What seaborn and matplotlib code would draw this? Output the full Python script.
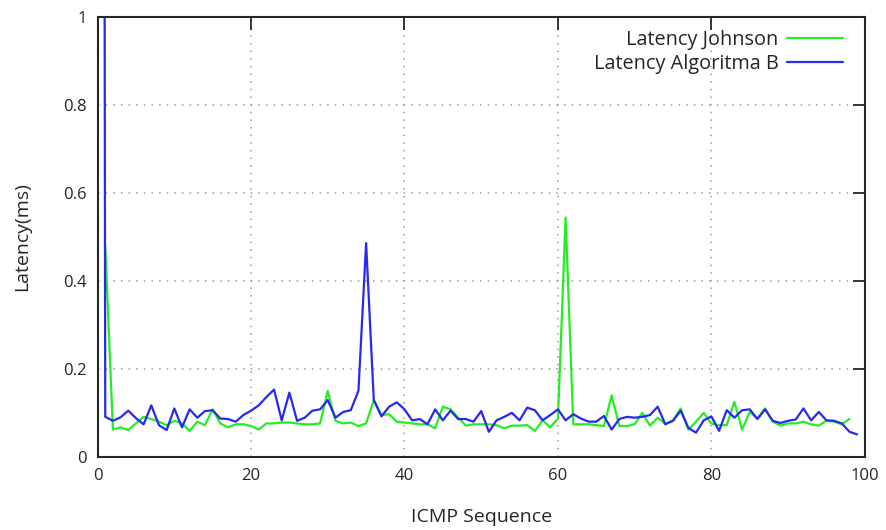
import matplotlib
matplotlib.use("Agg")
import matplotlib.pyplot as plt
import pandas as pd
import seaborn as sns

# ICMP sequence numbers and latencies (ms)
johnson_seq = list(range(1, 99))
johnson_ms = [
    0.48, 0.062, 0.067, 0.061, 0.076, 0.091, 0.086, 0.080, 0.072, 0.082,
    0.076, 0.059, 0.080, 0.072, 0.108, 0.076, 0.067, 0.074, 0.074, 0.070,
    0.062, 0.076, 0.076, 0.078, 0.078, 0.076, 0.074, 0.074, 0.076, 0.150,
    0.082, 0.076, 0.078, 0.070, 0.076, 0.129, 0.095, 0.097, 0.080, 0.078,
    0.076, 0.074, 0.074, 0.065, 0.114, 0.108, 0.089, 0.071, 0.074, 0.074,
    0.074, 0.072, 0.065, 0.071, 0.071, 0.072, 0.059, 0.083, 0.067, 0.087,
    0.544, 0.074, 0.074, 0.074, 0.072, 0.070, 0.140, 0.070, 0.070, 0.074,
    0.100, 0.071, 0.089, 0.075, 0.083, 0.110, 0.062, 0.080, 0.100, 0.076,
    0.072, 0.072, 0.125, 0.062, 0.102, 0.087, 0.110, 0.080, 0.071, 0.076,
    0.076, 0.080, 0.074, 0.071, 0.082, 0.080, 0.074, 0.086,
]

algb_seq = list(range(0, 100))
algb_ms = [
    12.0, 0.091, 0.082, 0.090, 0.105, 0.088, 0.074, 0.117, 0.072, 0.061,
    0.110, 0.067, 0.108, 0.089, 0.104, 0.106, 0.087, 0.086, 0.080, 0.095,
    0.105, 0.117, 0.136, 0.153, 0.083, 0.146, 0.082, 0.089, 0.105, 0.108,
    0.129, 0.089, 0.102, 0.106, 0.150, 0.486, 0.129, 0.092, 0.114, 0.124,
    0.108, 0.083, 0.086, 0.074, 0.108, 0.083, 0.105, 0.086, 0.086, 0.080,
    0.104, 0.057, 0.083, 0.091, 0.100, 0.083, 0.112, 0.106, 0.083, 0.095,
    0.108, 0.083, 0.097, 0.087, 0.080, 0.080, 0.093, 0.062, 0.086, 0.091,
    0.089, 0.091, 0.095, 0.114, 0.074, 0.082, 0.105, 0.066, 0.055, 0.083,
    0.092, 0.059, 0.106, 0.089, 0.106, 0.108, 0.086, 0.108, 0.082, 0.077,
    0.082, 0.085, 0.110, 0.083, 0.102, 0.083, 0.082, 0.076, 0.057, 0.051,
]

series_names = ["Latency Johnson", "Latency Algoritma B"]
series_colors = ["#22ee22", "#2828f0"]
x_ticks = [0, 20, 40, 60, 80, 100]
y_ticks = [0, 0.2, 0.4, 0.6, 0.8, 1]
y_tick_labels = ["0", "0.2", "0.4", "0.6", "0.8", "1"]

df = pd.concat([
    pd.DataFrame({"seq": johnson_seq, "latency": johnson_ms, "series": series_names[0]}),
    pd.DataFrame({"seq": algb_seq, "latency": algb_ms, "series": series_names[1]}),
], ignore_index=True)

sns.set_theme(style="white")
plt.rcParams["font.family"] = ["Open Sans", "DejaVu Sans"]
ink = "#262626"

fig = plt.figure(figsize=(8.87, 5.30), dpi=100)
ax = fig.add_axes([0.110, 0.138, 0.865, 0.830])

sns.lineplot(
    data=df, x="seq", y="latency", hue="series", hue_order=series_names,
    palette=dict(zip(series_names, series_colors)),
    estimator=None, sort=False, linewidth=1.6, ax=ax,
)

ax.set_xlim(0, 100)
ax.set_ylim(0, 1)
ax.set_xticks(x_ticks)
ax.set_xticklabels([str(t) for t in x_ticks])
ax.set_yticks(y_ticks)
ax.set_yticklabels(y_tick_labels)

ax.set_axisbelow(True)
ax.grid(True, linestyle=(0, (1, 4)), color="#9a9a9a", linewidth=1.1)
ax.tick_params(direction="in", length=9, width=1.3, top=True, right=True,
               color=ink, labelcolor=ink, labelsize=12, pad=8)
for spine in ax.spines.values():
    spine.set_linewidth(1.5)
    spine.set_color(ink)

ax.set_xlabel("ICMP Sequence", fontsize=14, color=ink, labelpad=17)
ax.set_ylabel("Latency(ms)", fontsize=14, color=ink, labelpad=23)

ax.legend(frameon=False, markerfirst=False, loc="upper right",
          bbox_to_anchor=(0.982, 0.988), fontsize=14.3,
          handlelength=2.8, handletextpad=0.45, labelspacing=0.2,
          borderaxespad=0, labelcolor=ink)

fig.savefig("out.png", dpi=100)
